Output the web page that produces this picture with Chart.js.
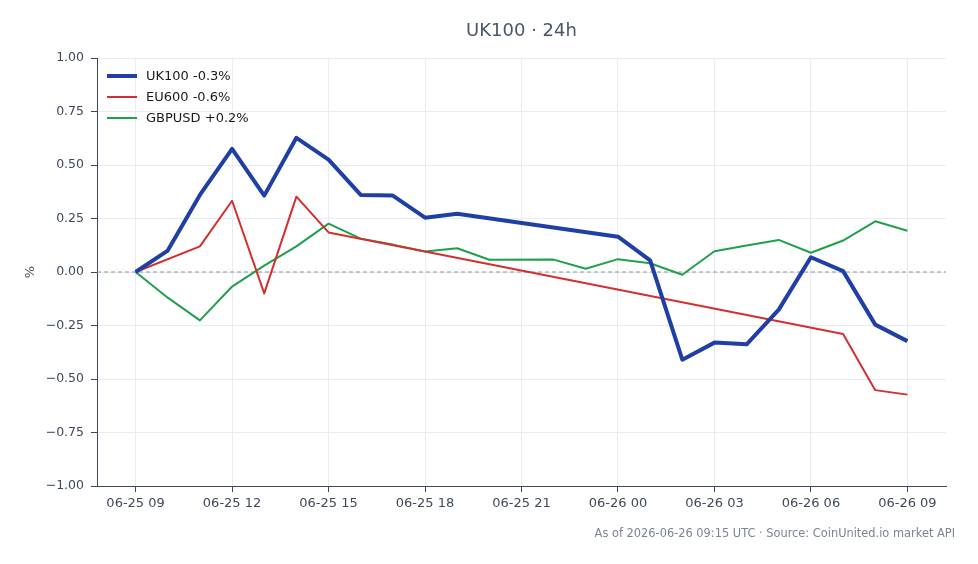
<!DOCTYPE html>
<html>
<head>
<meta charset="utf-8">
<script src="https://cdn.jsdelivr.net/npm/chart.js@4"></script>
<style>
  html, body { margin: 0; padding: 0; background: #ffffff; }
  #wrap { width: 978px; height: 564px; }
</style>
</head>
<body>
<div id="wrap"><canvas id="chart" width="978" height="564"></canvas></div>
<script>
// Hours since 06-25 09:00 UTC
var hours = [0,1,2,3,4,5,6,7,8,9,10,11,12,13,14,15,16,17,18,19,20,21,22,23,24];

// % change, null where there is no quote
var uk100 = [0, 0.10, 0.36, 0.575, 0.357, 0.627, 0.525, 0.36, 0.357, 0.254, 0.272,
  null, null, null, null, 0.165, 0.054, -0.41, -0.33, -0.338, -0.176, 0.069, 0.004, -0.246, -0.323];
var eu600 = [0, null, 0.12, 0.333, -0.10, 0.352, 0.185,
  null, null, null, null, null, null, null, null, null, null, null, null, null, null, null,
  -0.29, -0.552, -0.573];
var gbpusd = [0, -0.12, -0.226, -0.068, 0.03, 0.12, 0.226, 0.156, 0.128, 0.096, 0.111, 0.057,
  null, 0.058, 0.015, 0.06, 0.041, -0.013, 0.097, 0.124, 0.15, 0.09, 0.147, 0.237, 0.193];

// Legend names
var seriesNames = ['UK100 -0.3%', 'EU600 -0.6%', 'GBPUSD +0.2%'];

// X axis ticks
var tickHours = [0, 3, 6, 9, 12, 15, 18, 21, 24];
var tickLabels = ['06-25 09', '06-25 12', '06-25 15', '06-25 18', '06-25 21',
  '06-26 00', '06-26 03', '06-26 06', '06-26 09'];

var chartTitle = 'UK100 \u00b7 24h';
var footNote = 'As of 2026-06-26 09:15 UTC \u00b7 Source: CoinUnited.io market API';

var FONT = '"DejaVu Sans", sans-serif';

function toPoints(arr){
  return hours.map(function(h, i){ return {x: h, y: arr[i]}; });
}

// Zero line, title, legend and footer
var extras = {
  id: 'extras',
  beforeDatasetsDraw: function(chart){
    var ctx = chart.ctx, a = chart.chartArea;
    var y0 = chart.scales.y.getPixelForValue(0);
    ctx.save();
    ctx.strokeStyle = '#8a96ab';
    ctx.lineWidth = 1;
    ctx.setLineDash([4, 3]);
    ctx.beginPath();
    ctx.moveTo(a.left, y0);
    ctx.lineTo(a.right, y0);
    ctx.stroke();
    ctx.restore();
  },
  afterDraw: function(chart){
    var ctx = chart.ctx, a = chart.chartArea;
    ctx.save();
    // title
    ctx.fillStyle = '#4a5567';
    ctx.font = '18px ' + FONT;
    ctx.textAlign = 'center';
    ctx.textBaseline = 'middle';
    ctx.fillText(chartTitle, (a.left + a.right) / 2, 31);

    // y label
    ctx.save();
    ctx.translate(31, (a.top + a.bottom) / 2);
    ctx.rotate(-Math.PI / 2);
    ctx.fillStyle = '#4a5567';
    ctx.font = '13px ' + FONT;
    ctx.fillText('%', 0, 0);
    ctx.restore();

    // legend
    ctx.textAlign = 'left';
    ctx.font = '13px ' + FONT;
    chart.data.datasets.forEach(function(ds, i){
      var y = 76 + i * 21;
      ctx.strokeStyle = ds.borderColor;
      ctx.lineWidth = ds.borderWidth;
      ctx.lineCap = 'butt';
      ctx.beginPath();
      ctx.moveTo(a.left + 10, y);
      ctx.lineTo(a.left + 40, y);
      ctx.stroke();
      ctx.fillStyle = '#1a1a1a';
      ctx.fillText(seriesNames[i], a.left + 49, y + 1);
    });

    // footer
    ctx.fillStyle = '#7b8493';
    ctx.font = '11.4px ' + FONT;
    ctx.textAlign = 'right';
    ctx.fillText(footNote, 955, 534);
    ctx.restore();
  }
};

new Chart(document.getElementById('chart'), {
  type: 'line',
  data: {
    datasets: [
      { label: seriesNames[0], data: toPoints(uk100), borderColor: '#1f3fa6', borderWidth: 4 },
      { label: seriesNames[1], data: toPoints(eu600), borderColor: '#d32f2f', borderWidth: 2 },
      { label: seriesNames[2], data: toPoints(gbpusd), borderColor: '#21a04b', borderWidth: 2 }
    ]
  },
  options: {
    responsive: false,
    animation: false,
    spanGaps: true,
    elements: {
      point: { radius: 0 },
      line: { tension: 0, borderJoinStyle: 'round', borderCapStyle: 'butt', fill: false }
    },
    layout: { padding: { left: 20, right: 32, top: 58, bottom: 38 } },
    plugins: {
      legend: { display: false },
      title: { display: false },
      tooltip: { enabled: false }
    },
    scales: {
      x: {
        type: 'linear',
        min: -1.2,
        max: 25.2,
        afterBuildTicks: function(s){ s.ticks = tickHours.map(function(v){ return {value: v}; }); },
        afterFit: function(s){ s.height = 40; },
        ticks: {
          autoSkip: false,
          maxRotation: 0,
          padding: 4,
          color: '#3d4a5c',
          font: { family: FONT, size: 13 },
          callback: function(v, i){ return tickLabels[i]; }
        },
        grid: { color: '#e8ebf0', tickColor: '#3d4a5c', tickLength: 6, lineWidth: 1 },
        border: { color: '#3d4a5c', width: 1 }
      },
      y: {
        min: -1,
        max: 1,
        afterFit: function(s){ s.width = 77; },
        ticks: {
          stepSize: 0.25,
          padding: 7,
          color: '#3d4a5c',
          font: { family: FONT, size: 12.5 },
          callback: function(v){
            return v < 0 ? '\u2212' + Math.abs(v).toFixed(2) : v.toFixed(2);
          }
        },
        grid: { color: '#e8ebf0', tickColor: '#3d4a5c', tickLength: 6, lineWidth: 1 },
        border: { color: '#3d4a5c', width: 1 }
      }
    }
  },
  plugins: [extras]
});
</script>
</body>
</html>
